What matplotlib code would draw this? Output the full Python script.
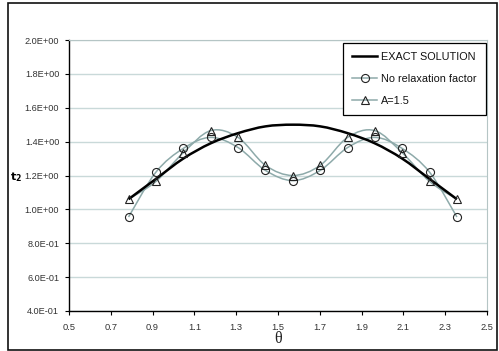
import numpy as np
import matplotlib
matplotlib.use("Agg")
import matplotlib.pyplot as plt
from matplotlib.path import Path
from matplotlib.patches import PathPatch, Rectangle
from matplotlib.lines import Line2D

# ---- data ----
theta = [0.785, 0.916, 1.047, 1.178, 1.309, 1.440, 1.571, 1.702, 1.833, 1.963, 2.094, 2.225, 2.356]
exact = [1.06, 1.18, 1.30, 1.39, 1.45, 1.49, 1.50, 1.49, 1.45, 1.39, 1.30, 1.18, 1.06]
no_relax = [0.955, 1.22, 1.36, 1.425, 1.365, 1.23, 1.17, 1.23, 1.365, 1.425, 1.36, 1.22, 0.955]
a15 = [1.06, 1.165, 1.335, 1.465, 1.425, 1.26, 1.20, 1.26, 1.425, 1.465, 1.335, 1.165, 1.06]

series_labels = ["EXACT SOLUTION", "No relaxation factor", "A=1.5"]
x_ticks = [0.5, 0.7, 0.9, 1.1, 1.3, 1.5, 1.7, 1.9, 2.1, 2.3, 2.5]
x_ticklabels = ["0.5", "0.7", "0.9", "1.1", "1.3", "1.5", "1.7", "1.9", "2.1", "2.3", "2.5"]
y_ticks = [0.4, 0.6, 0.8, 1.0, 1.2, 1.4, 1.6, 1.8, 2.0]
y_ticklabels = ["4.0E-01", "6.0E-01", "8.0E-01", "1.0E+00", "1.2E+00",
                "1.4E+00", "1.6E+00", "1.8E+00", "2.0E+00"]

FONT = "Liberation Sans"
GRAY = "#8eaaaa"
GRID = "#c9d9d9"
TXT = "#333333"


def smooth_path(x, y):
    """Excel-style smoothed line (Catmull-Rom Bezier) through the given points."""
    x = np.asarray(x, float)
    y = np.asarray(y, float)
    n = len(x)
    verts = [(x[0], y[0])]
    codes = [Path.MOVETO]
    for i in range(n - 1):
        i0 = max(i - 1, 0)
        i3 = min(i + 2, n - 1)
        c1 = (x[i] + (x[i + 1] - x[i0]) / 6.0, y[i] + (y[i + 1] - y[i0]) / 6.0)
        c2 = (x[i + 1] - (x[i3] - x[i]) / 6.0, y[i + 1] - (y[i3] - y[i]) / 6.0)
        verts += [c1, c2, (x[i + 1], y[i + 1])]
        codes += [Path.CURVE4] * 3
    return Path(verts, codes)


W, H = 499, 351
fig = plt.figure(figsize=(W / 100, H / 100), dpi=100)
fig.patch.set_facecolor("white")

# outer chart border
fig.add_artist(Rectangle((8 / W, 1 - 350 / H), (497 - 8) / W, (350 - 3) / H,
                         transform=fig.transFigure, fill=False,
                         edgecolor="#111111", linewidth=1.2))

ax = fig.add_axes([69 / W, 1 - 311 / H, (487 - 69) / W, (311 - 40) / H])
ax.set_xlim(0.5, 2.5)
ax.set_ylim(0.4, 2.0)

for yv in y_ticks:
    ax.axhline(yv, color=GRID, lw=1.0, zorder=0)

ax.spines["left"].set_color("black")
ax.spines["bottom"].set_color("black")
ax.spines["left"].set_linewidth(1.0)
ax.spines["bottom"].set_linewidth(1.0)
ax.spines["top"].set_color("#b5c5c5")
ax.spines["right"].set_color("#b5c5c5")
ax.spines["top"].set_linewidth(0.8)
ax.spines["right"].set_linewidth(0.8)

ax.set_xticks(x_ticks)
ax.set_xticklabels(x_ticklabels, fontname=FONT, fontsize=6.7, color=TXT)
ax.set_yticks(y_ticks)
ax.set_yticklabels(y_ticklabels, fontname=FONT, fontsize=6.6, color=TXT)
ax.tick_params(axis="x", direction="out", length=3, width=0.8, pad=6)
ax.tick_params(axis="y", direction="out", length=3, width=0.8, pad=4)

# exact solution (smooth black line)
ax.add_patch(PathPatch(smooth_path(theta, exact), fill=False, edgecolor="black",
                       lw=1.8, zorder=3))
# gray smoothed series
ax.add_patch(PathPatch(smooth_path(theta, no_relax), fill=False, edgecolor=GRAY,
                       lw=1.1, zorder=2))
ax.add_patch(PathPatch(smooth_path(theta, a15), fill=False, edgecolor=GRAY,
                       lw=1.1, zorder=2))
ax.plot(theta, no_relax, ls="none", marker="o", ms=5.8, mfc="none", mec="#222222",
        mew=0.8, zorder=4)
ax.plot(theta, a15, ls="none", marker="^", ms=6.2, mfc="none", mec="#222222",
        mew=0.8, zorder=4)

handles = [
    Line2D([], [], color="black", lw=1.8),
    Line2D([], [], color=GRAY, lw=1.1, marker="o", ms=5.8, mfc="none", mec="#222222", mew=0.8),
    Line2D([], [], color=GRAY, lw=1.1, marker="^", ms=6.2, mfc="none", mec="#222222", mew=0.8),
]
leg = ax.legend(handles, series_labels, loc="upper right",
                bbox_to_anchor=(0.998, 0.989), frameon=True, fancybox=False,
                edgecolor="black", framealpha=1, prop={"family": FONT, "size": 7.8},
                handlelength=2.3, handletextpad=0.4, labelspacing=1.1,
                borderpad=0.85, borderaxespad=0)
leg.get_frame().set_linewidth(0.9)
for t in leg.get_texts():
    t.set_color("#111111")

# axis labels
fig.text(16 / W, 1 - 177 / H, r"$\mathbf{t}_\mathbf{2}$", ha="center", va="center",
         fontsize=8, color="black")
fig.text(278 / W, 1 - 339 / H, "θ", ha="center", va="center",
         fontname="Liberation Serif", fontsize=11.5, color="#222222")

fig.savefig("out.png", dpi=100)
